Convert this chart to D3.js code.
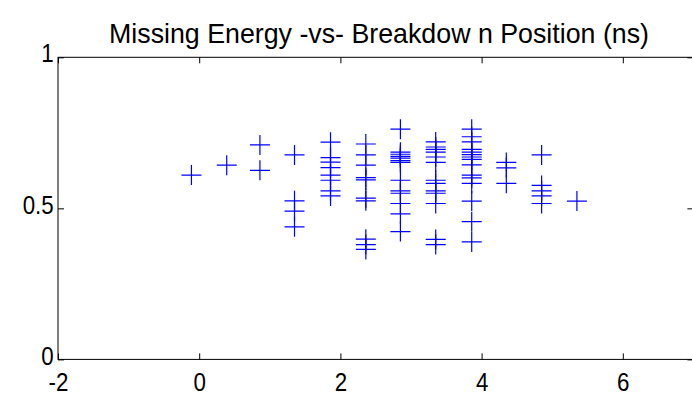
<!DOCTYPE html>
<html>
<head>
<meta charset="utf-8">
<script src="https://cdn.jsdelivr.net/npm/d3@7"></script>
<style>
  html, body { margin: 0; padding: 0; background: #fff; }
  svg { display: block; font-family: "Liberation Sans", Arial, sans-serif; }
</style>
</head>
<body>
<svg id="chart" width="692" height="395"></svg>
<script>
// Breakdown position (ns) of each column of measurements
const positions = [-0.11, 0.39, 0.86, 1.35, 1.86, 2.36, 2.85, 3.35, 3.86, 4.35, 4.85, 5.35];

// Missing energy values recorded at each position (same order as positions)
const energies = [
  [0.61],
  [0.643],
  [0.71, 0.626],
  [0.677, 0.525, 0.491, 0.439],
  [0.719, 0.668, 0.653, 0.635, 0.610, 0.593, 0.558, 0.541],
  [0.713, 0.677, 0.643, 0.602, 0.594, 0.534, 0.525, 0.398, 0.380, 0.364],
  [0.762, 0.686, 0.679, 0.672, 0.666, 0.658, 0.652, 0.593, 0.558, 0.550, 0.516, 0.482, 0.423],
  [0.720, 0.703, 0.695, 0.686, 0.670, 0.652, 0.593, 0.583, 0.558, 0.550, 0.516, 0.397, 0.380],
  [0.762, 0.737, 0.720, 0.695, 0.686, 0.678, 0.670, 0.662, 0.644, 0.610, 0.601, 0.583, 0.524, 0.456, 0.389],
  [0.652, 0.634, 0.583],
  [0.677, 0.576, 0.558, 0.541, 0.516],
  [0.524]
];

const xTicks = [-2, 0, 2, 4, 6];
const yTicks = [0, 0.5, 1];
const yTickLabels = ["0", "0.5", "1"];
const title = "Missing Energy -vs- Breakdow n Position (ns)";

const points = positions.flatMap((p, i) => energies[i].map(e => ({x: p, y: e})));

const svg = d3.select("#chart");
const plotLeft = 58, plotRight = 693.4, plotTop = 57.3, plotBottom = 359.4;

const x = d3.scaleLinear().domain([-2, 7]).range([plotLeft, plotRight]);
const y = d3.scaleLinear().domain([0, 1]).range([plotBottom, plotTop]);

// Axes box
svg.append("rect")
  .attr("x", plotLeft).attr("y", plotTop)
  .attr("width", plotRight - plotLeft).attr("height", plotBottom - plotTop)
  .attr("fill", "none").attr("stroke", "#000").attr("stroke-width", 1);

const tickLen = 6;
const tickFont = 26;
const narrow = 0.86; // tall, narrow lettering

// Bottom axis with labels, ticks pointing inward
const xAxis = svg.append("g").attr("transform", `translate(0,${plotBottom})`)
  .call(d3.axisBottom(x).tickValues(xTicks).tickSize(-tickLen).tickPadding(13).tickFormat(d => String(d)));
// Top mirror ticks
const xTop = svg.append("g").attr("transform", `translate(0,${plotTop})`)
  .call(d3.axisTop(x).tickValues(xTicks).tickSize(-tickLen).tickFormat(""));
// Left axis with labels
const yAxis = svg.append("g").attr("transform", `translate(${plotLeft},0)`)
  .call(d3.axisLeft(y).tickValues(yTicks).tickSize(-tickLen).tickPadding(5)
    .tickFormat((d, i) => yTickLabels[i]));
// Right mirror ticks
const yRight = svg.append("g").attr("transform", `translate(${plotRight},0)`)
  .call(d3.axisRight(y).tickValues(yTicks).tickSize(-tickLen).tickFormat(""));

[xAxis, xTop, yAxis, yRight].forEach(g => {
  g.select(".domain").remove();
  g.selectAll(".tick line").attr("stroke", "#000");
  g.selectAll("text").attr("fill", "#000").style("font-size", tickFont + "px")
    .style("font-family", "'Liberation Sans', Arial, sans-serif")
    .attr("transform", `scale(${narrow},1)`);
});
// Value labels sit slightly above their ticks
yAxis.selectAll("text").attr("dy", "0.18em");

// Plus markers
const half = 10;
const marks = svg.append("g").attr("stroke", "#0000ff").attr("stroke-width", 1.2);
marks.selectAll("path").data(points).join("path")
  .attr("d", d => {
    const cx = x(d.x), cy = y(d.y);
    return `M${cx - half},${cy}H${cx + half}M${cx},${cy - half}V${cy + half}`;
  });

// Title
svg.append("text")
  .attr("x", 379).attr("y", 43)
  .attr("text-anchor", "middle")
  .attr("textLength", 540)
  .attr("lengthAdjust", "spacingAndGlyphs")
  .style("font-size", "28px")
  .attr("fill", "#000")
  .text(title);
</script>
</body>
</html>
